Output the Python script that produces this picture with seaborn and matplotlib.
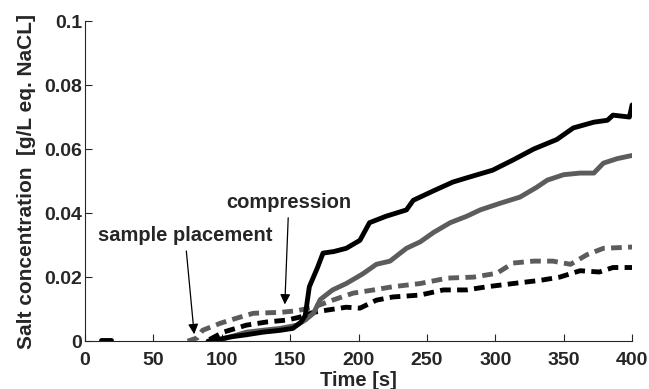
"""Salt concentration over time after sample placement and compression."""

import matplotlib
matplotlib.use("Agg")
import matplotlib.pyplot as plt
import seaborn as sns

# black solid
t_black = [90, 95, 106, 118, 130, 143, 152, 158, 161, 164, 167, 170, 174, 182, 191, 201, 208,
           220, 235, 240, 255, 269, 279, 298, 313, 328, 345, 357, 372, 382, 386, 398, 400]
c_black = [0.0, 0.0003, 0.0013, 0.002, 0.0028, 0.0034, 0.004, 0.006, 0.008, 0.017, 0.020, 0.023,
           0.0275, 0.028, 0.029, 0.0315, 0.037, 0.039, 0.041, 0.044, 0.047, 0.0497, 0.051,
           0.0534, 0.0566, 0.060, 0.063, 0.0666, 0.0684, 0.069, 0.0706, 0.070, 0.0738]
# short black trace near t=15
t_blip = [12, 19]
c_blip = [0.0003, 0.0003]

# gray solid
t_gray = [95, 106, 118, 130, 143, 155, 161, 167, 172, 181, 191, 203, 213, 223, 235, 245, 255,
          267, 279, 289, 303, 318, 330, 338, 350, 362, 372, 379, 389, 400]
c_gray = [0.0, 0.0013, 0.0028, 0.0034, 0.004, 0.005, 0.0066, 0.0087, 0.013, 0.016, 0.018, 0.021,
          0.024, 0.025, 0.029, 0.031, 0.034, 0.037, 0.039, 0.041, 0.043, 0.045, 0.048, 0.0503,
          0.052, 0.0525, 0.0525, 0.0556, 0.057, 0.058]

# gray dashed
t_gray_d = [75, 82, 86, 99, 111, 123, 143, 155, 167, 181, 196, 211, 225, 245, 265, 284, 301,
            313, 328, 342, 355, 367, 379, 400]
c_gray_d = [0.0, 0.001, 0.0034, 0.0056, 0.0072, 0.0087, 0.009, 0.0095, 0.0106, 0.0128, 0.015,
            0.016, 0.017, 0.018, 0.0197, 0.020, 0.0212, 0.0244, 0.025, 0.025, 0.024, 0.027,
            0.029, 0.0294]

# black dashed
t_black_d = [91, 101, 118, 133, 148, 157, 167, 177, 191, 201, 213, 225, 245, 262, 279, 294,
             313, 333, 347, 362, 376, 386, 400]
c_black_d = [0.0005, 0.0028, 0.005, 0.006, 0.0066, 0.0075, 0.009, 0.0097, 0.0106, 0.0103, 0.0128,
             0.0138, 0.0144, 0.016, 0.016, 0.017, 0.018, 0.019, 0.020, 0.022, 0.0216, 0.023, 0.023]

x_ticks = [0, 50, 100, 150, 200, 250, 300, 350, 400]
y_ticks = [0, 0.02, 0.04, 0.06, 0.08, 0.1]
y_tick_labels = ["0", "0.02", "0.04", "0.06", "0.08", "0.1"]

GRAY = "#5c5c5c"

sns.set_style("ticks")
plt.rcParams["font.family"] = ["Liberation Sans", "DejaVu Sans"]
plt.rcParams["font.weight"] = "bold"
plt.rcParams["xtick.direction"] = "in"
plt.rcParams["ytick.direction"] = "in"

fig = plt.figure(figsize=(6.49, 3.89), dpi=100)
ax = fig.add_axes([0.131, 0.123, 0.843, 0.823])

lw = 3.5
dash = (0, (2.2, 1.3))
sns.lineplot(x=t_blip, y=c_blip, ax=ax, color="black", lw=lw)
sns.lineplot(x=t_black_d, y=c_black_d, ax=ax, color="black", lw=lw, linestyle=dash)
sns.lineplot(x=t_gray_d, y=c_gray_d, ax=ax, color=GRAY, lw=lw, linestyle=dash)
sns.lineplot(x=t_gray, y=c_gray, ax=ax, color=GRAY, lw=lw)
sns.lineplot(x=t_black, y=c_black, ax=ax, color="black", lw=lw)

arrow = dict(arrowstyle="-|>", color="black", lw=0.9, mutation_scale=15)
ax.annotate("sample placement", xy=(80, 0.0013), xytext=(73, 0.033), ha="center", va="center",
            fontsize=14.5, fontweight="bold", arrowprops=arrow)
ax.annotate("compression", xy=(146, 0.0106), xytext=(149, 0.0434), ha="center", va="center",
            fontsize=14.5, fontweight="bold", arrowprops=arrow)

ax.set_xlim(0, 400)
ax.set_ylim(0, 0.1)
ax.set_xticks(x_ticks)
ax.set_yticks(y_ticks)
ax.set_yticklabels(y_tick_labels)
ax.tick_params(labelsize=14, length=5, width=0.8)
ax.tick_params(axis="x", pad=8)
ax.tick_params(axis="y", pad=2)
for lab in ax.get_xticklabels() + ax.get_yticklabels():
    lab.set_fontweight("bold")
ax.set_xlabel("Time [s]", fontsize=14.5, fontweight="bold", labelpad=1.5)
ax.set_ylabel("Salt concentration  [g/L eq. NaCL]", fontsize=15, fontweight="bold", labelpad=6)
sns.despine(ax=ax)

fig.savefig("out.png", dpi=100)
